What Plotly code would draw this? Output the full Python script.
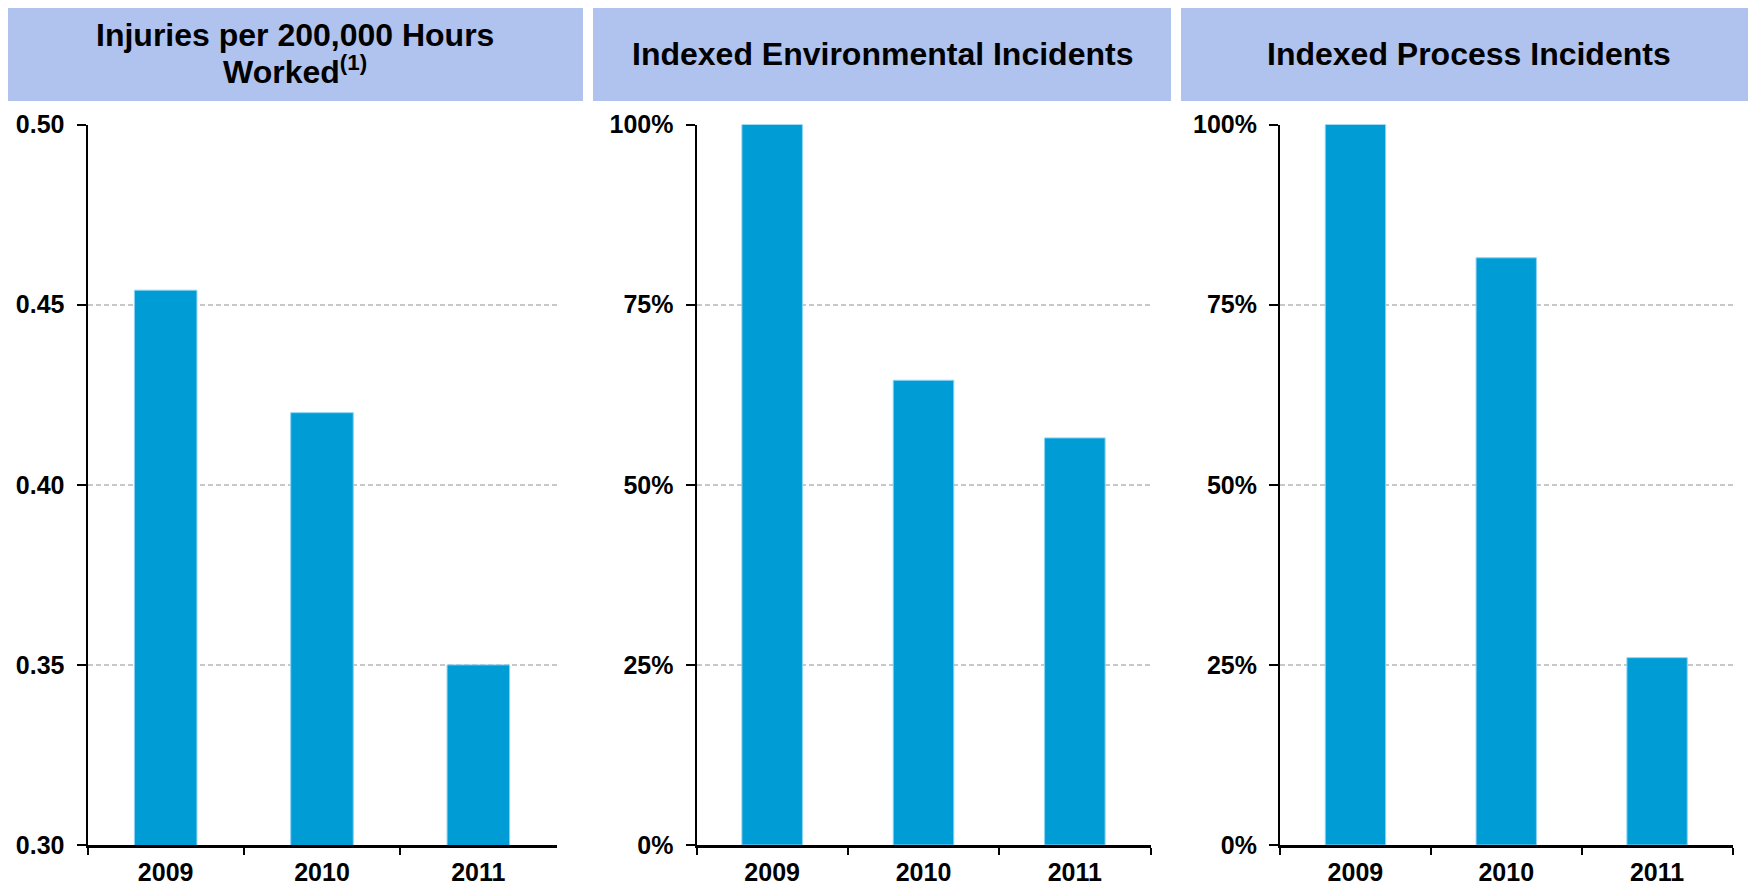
import plotly.graph_objects as go

# page body has an 8px margin; size the figure so it fits the 1756x894 window
OFF = 8
W, H = 1756 - 2 * OFF, 894 - 2 * OFF

years = ["2009", "2010", "2011"]
injuries = [0.454, 0.420, 0.350]
environmental = [1.00, 0.645, 0.565]
process = [1.00, 0.815, 0.26]

titles = ["Injuries per 200,000 Hours", "Indexed Environmental Incidents", "Indexed Process Incidents"]
title1_line2 = "Worked<sup>(1)</sup>"

inj_ticks = [0.30, 0.35, 0.40, 0.45, 0.50]
pct_ticks = [0, 0.25, 0.50, 0.75, 1.00]

BAR = "#009CD6"
HEAD = "#AFC3EE"
FONT = "Liberation Sans, Arial, sans-serif"

def px(x):
    return (x - OFF) / W

def py(y):
    return 1 - (y - OFF) / H

plot_x = [(87.5, 556.5), (696.5, 1150.5), (1280.0, 1732.5)]
plot_y = (124.5, 845.0)
head_x = [(6, 583), (593, 1171), (1181, 1760)]
head_y = (2, 101)

fig = go.Figure()
series = [injuries, environmental, process]
for i, vals in enumerate(series):
    sfx = "" if i == 0 else str(i + 1)
    fig.add_trace(go.Bar(
        x=years, y=vals, xaxis="x" + sfx, yaxis="y" + sfx,
        width=0.4,
        marker=dict(color=BAR, line=dict(color="#8AD3F2", width=1)),
        showlegend=False, hoverinfo="x+y",
    ))

layout = dict(
    width=W, height=H, margin=dict(l=0, r=0, t=0, b=0, autoexpand=False),
    paper_bgcolor="white", plot_bgcolor="white",
    font=dict(family=FONT, color="black"),
    shapes=[], annotations=[],
)

for i in range(3):
    sfx = "" if i == 0 else str(i + 1)
    xname = "xaxis" + sfx
    yname = "yaxis" + sfx
    layout[xname] = dict(
        domain=[px(plot_x[i][0]), px(plot_x[i][1])],
        anchor="y" + sfx, type="category", range=[-0.5, 2.5],
        showline=True, linecolor="black", linewidth=3,
        ticks="outside", tickson="boundaries", ticklen=7, tickwidth=2, tickcolor="black",
        showgrid=False, zeroline=False,
        tickfont=dict(family=FONT, size=25, color="black", weight="bold"),
        ticklabelstandoff=3,
        fixedrange=True,
    )
    ydict = dict(
        domain=[py(plot_y[1]), py(plot_y[0])],
        anchor="x" + sfx,
        showline=True, linecolor="black", linewidth=2,
        ticks="outside", ticklen=9, tickwidth=2, tickcolor="black",
        showgrid=True, gridcolor="#C8C8C8", gridwidth=1.5, griddash="5px,3px",
        zeroline=False,
        tickfont=dict(family=FONT, size=25, color="black", weight="bold"),
        ticklabelstandoff=7,
        fixedrange=True,
    )
    if i == 0:
        ydict.update(range=[0.30, 0.50], tickvals=inj_ticks, tickformat=".2f")
    else:
        ydict.update(range=[0, 1.0], tickvals=pct_ticks, tickformat=".0%")
    layout[yname] = ydict

    layout["shapes"].append(dict(
        type="rect", xref="paper", yref="paper",
        x0=px(head_x[i][0]), x1=px(head_x[i][1]),
        y0=py(head_y[1]), y1=py(head_y[0]),
        fillcolor=HEAD, line=dict(width=0), layer="below",
    ))

hf = dict(family=FONT, size=32, color="black", weight="bold")
cx = [px((a + b) / 2) for a, b in [(6, 583), (593, 1171), (1181, 1756)]]
layout["annotations"] += [
    dict(text=titles[0], x=cx[0], y=py(35), xref="paper", yref="paper",
         showarrow=False, font=hf, xanchor="center", yanchor="middle"),
    dict(text=title1_line2, x=cx[0], y=py(70), xref="paper", yref="paper",
         showarrow=False, font=hf, xanchor="center", yanchor="middle"),
    dict(text=titles[1], x=cx[1], y=py(54), xref="paper", yref="paper",
         showarrow=False, font=hf, xanchor="center", yanchor="middle"),
    dict(text=titles[2], x=cx[2], y=py(54), xref="paper", yref="paper",
         showarrow=False, font=hf, xanchor="center", yanchor="middle"),
]

fig.update_layout(**layout)
fig.write_html("out.html", config=dict(displayModeBar=False))
